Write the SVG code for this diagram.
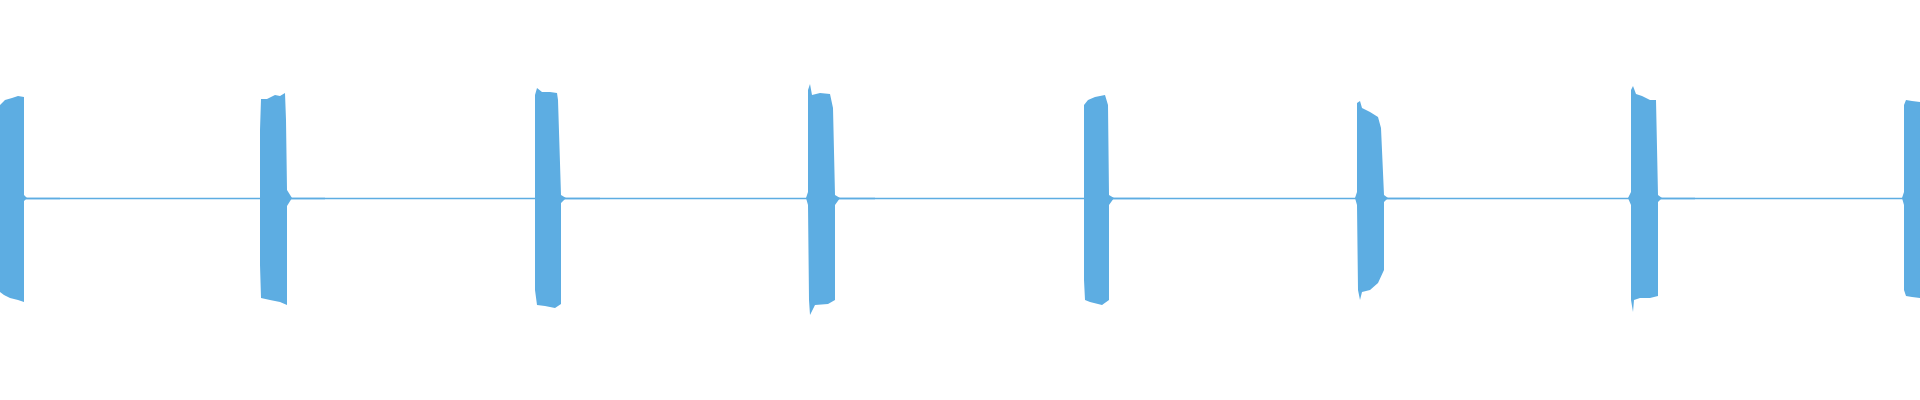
<svg xmlns="http://www.w3.org/2000/svg" width="1920" height="400" viewBox="0 0 1920 400">
<style>.w{fill:#5dade2}.l{stroke:#5dade2;stroke-width:1.5;fill:none}</style>
<rect width="1920" height="400" fill="#fff"/>
<g id="baseline"><path class="l" d="M0 198.5H1920"/>
<path class="l" stroke-width="3" d="M24 198.5H60M287 198.5H325M561 198.5H600M835 198.5H875M1109 198.5H1150M1384 198.5H1420M1658 198.5H1695"/></g>
<g id="bursts">
<path class="w" d="M0 105 L5 100 L12 98 L18 96 L24 97 L24 195 L27 198 L24 201 L24 302 L18 300 L10 298 L4 295 L0 292Z"/>
<path class="w" d="M260 130 L261 99 L267 99 L275 95 L280 96 L285 93 L286 120 L287 190 L292 198 L287 206 L287 305 L280 302 L270 300 L261 298 L260 265Z"/>
<path class="w" d="M535 95 L537 88 L542 92 L550 92 L557 93 L558 100 L561 195 L566 198 L561 203 L561 304 L555 308 L545 306 L537 305 L535 290Z"/>
<path class="w" d="M808 90 L810 84 L812 95 L820 93 L830 94 L833 108 L835 195 L840 198 L835 205 L835 300 L828 304 L815 305 L810 315 L809 300 L808 205 L806 198 L808 192Z"/>
<path class="w" d="M1084 105 L1088 100 L1095 97 L1105 95 L1108 105 L1109 195 L1114 198 L1109 205 L1109 300 L1102 305 L1090 302 L1085 300 L1084 280Z"/>
<path class="w" d="M1357 103 L1360 101 L1362 108 L1370 112 L1378 117 L1381 128 L1384 195 L1388 198 L1384 202 L1384 270 L1378 283 L1370 290 L1362 292 L1360 300 L1358 290 L1357 205 L1355 198 L1357 192Z"/>
<path class="w" d="M1631 90 L1633 86 L1636 94 L1642 96 L1650 100 L1656 100 L1658 195 L1662 198 L1658 202 L1658 296 L1650 298 L1640 298 L1634 300 L1633 312 L1631 300 L1631 205 L1628 198 L1631 192Z"/>
<path class="w" d="M1904 105 L1906 100 L1912 101 L1920 102 L1920 298 L1912 297 L1906 296 L1904 290 L1904 205 L1902 198 L1904 192Z"/>
</g>
</svg>
